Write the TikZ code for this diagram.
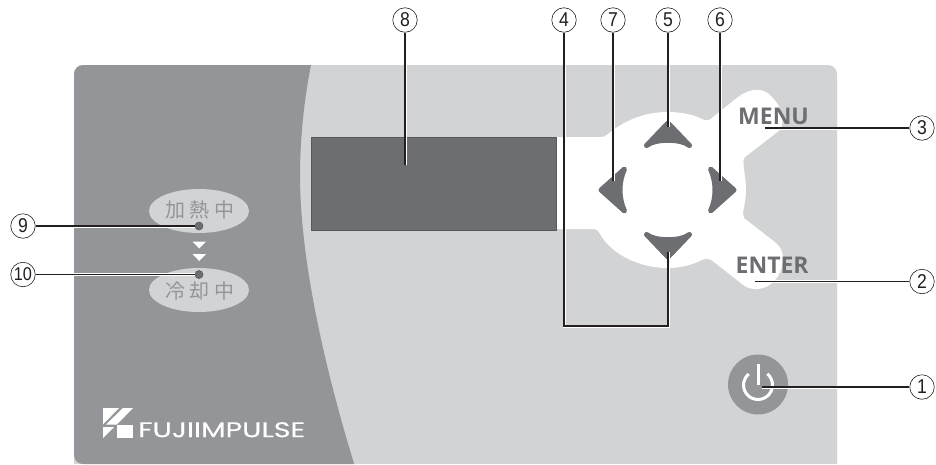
\documentclass[tikz,border=0pt]{standalone}
\usepackage{fontspec}
\setmainfont{Liberation Sans}
\newfontfamily\cjkf{Noto Sans CJK JP}
\newfontfamily\btn{Open Sans}[BoldFont={Open Sans Bold}]
\newfontfamily\logof{Poppins}[FakeBold=0.25]
\newfontfamily\numf{Liberation Sans}[FakeStretch=0.88]
\definecolor{plight}{HTML}{D1D3D4}
\definecolor{pdark}{HTML}{939598}
\definecolor{pdisp}{HTML}{6D6E71}
\definecolor{pedge}{HTML}{58595B}
\definecolor{pink}{HTML}{231F20}
\tikzset{
  num/.style={circle,draw=pink,line width=.6pt,fill=white,minimum size=24.5pt,inner sep=0pt,text=pink,font=\numf\fontsize{20}{20}\selectfont},
  numtight/.style={num,font=\numf\fontsize{18.5}{18.5}\selectfont},
  lead/.style={draw=pink,line width=1.2pt,preaction={draw=white,line width=3pt}},
  arrowkey/.style={fill=pdisp,draw=pdisp,line width=5pt,line join=round},
  lamp/.style={circle,fill=pdisp,draw=pedge,line width=.6pt,minimum size=8pt,inner sep=0pt},
  pill/.style={ellipse,fill=plight,minimum width=100pt,minimum height=44pt,inner sep=0pt},
  pilltext/.style={text=pdark,font=\cjkf\fontsize{20}{20}\selectfont},
  btntext/.style={text=pdisp,font=\btn\bfseries\fontsize{23}{23}\selectfont,inner sep=0pt},
  logomark/.style={fill=white},
}
\usetikzlibrary{shapes.geometric}
\begin{document}
\begin{tikzpicture}[x=1pt,y=-1pt]
\useasboundingbox (0,0) rectangle (936,464);
% panel
\fill[plight,rounded corners=9pt] (74,65) rectangle (837,472);
\fill[white] (60,464) rectangle (850,480);
\begin{scope}
\clip[rounded corners=9pt] (74,65) rectangle (837,464);
\fill[pdark] (60,55) -- (312,55) -- (311,65) .. controls (304,100) and (300,140) .. (300,175)
  .. controls (300,260) and (325,370) .. (356,470) -- (60,470) -- cycle;
\end{scope}
% white key field
\fill[white] (557,137) -- (600,137) .. controls (604,137) and (606,136) .. (608,134)
  .. controls (625,120) and (645,112) .. (668,112)
  .. controls (682,112) and (695,115) .. (704,120)
  .. controls (708,121) and (710,120) .. (713,117)
  -- (738,97) .. controls (750,88) and (763,87) .. (771,96)
  .. controls (781,106) and (786,118) .. (780,130)
  -- (745,157) .. controls (741,161) and (746,175) .. (746,190)
  .. controls (746,205) and (741,213) .. (744,218)
  -- (776,243) .. controls (785,250) and (785,265) .. (778,276)
  .. controls (770,290) and (752,293) .. (742,284)
  -- (714,262) .. controls (709,258) and (706,258) .. (702,260)
  .. controls (692,265) and (680,268) .. (668,268)
  .. controls (640,268) and (612,255) .. (600,234)
  .. controls (598,230) and (596,229) .. (592,229)
  -- (557,229) -- cycle;
% display
\path[fill=pdisp,draw=pedge,line width=.8pt] (311.5,137) rectangle (556.5,230);
% arrow keys
\path[arrowkey] (668,123) -- (689.5,145.5) .. controls (680,138.5) and (656,138.5) .. (646.5,145.5) -- cycle;
\path[arrowkey] (668,257) -- (689.5,234.5) .. controls (680,241.5) and (656,241.5) .. (646.5,234.5) -- cycle;
\path[arrowkey] (601,190) -- (624.5,169) .. controls (618.5,182) and (618.5,198) .. (624.5,211) -- cycle;
\path[arrowkey] (734,190) -- (710.5,169) .. controls (716.5,182) and (716.5,198) .. (710.5,211) -- cycle;
% button labels
\node[btntext,anchor=base west] (menu) at (738,124) {MENU};
\node[btntext,anchor=base west] (enter) at (735.5,273) {ENTER};
% power button
\node[circle,fill=pdark,minimum size=60pt,inner sep=0pt] (power) at (758,384.5) {};
\draw[white,line width=3pt] (758,364) -- (758,385);
\draw[white,line width=3pt] (758,385) ++(-50:14.5) arc[start angle=-50,end angle=230,radius=14.5];
% pills
\node[pill] (heat) at (199,211) {};
\node[pill] (cool) at (199,290) {};
\node[pilltext] at (199.5,210) {加\hspace{4.5pt}熱\hspace{4.5pt}中};
\node[pilltext] at (199.5,291) {冷\hspace{4.5pt}却\hspace{4.5pt}中};
\fill[white] (192.5,241.5) -- (206,241.5) -- (199.2,248.5) -- cycle;
\fill[white] (192.5,254) -- (206,254) -- (199.2,261) -- cycle;
\node[lamp] (d9) at (199,226) {};
\node[lamp] (d10) at (199,274.5) {};
% logo
\fill[logomark] (103,408) -- (119,408) -- (103,424.5) -- cycle;
\fill[logomark] (123,408) -- (133,408) -- (117,424.5) -- (106,424.5) -- cycle;
\fill[logomark] (103,427) -- (114,427) -- (103,438) -- cycle;
\fill[logomark] (117,425) -- (133,425) -- (133,438) -- (117,438) -- cycle;
\node[inner sep=0pt,anchor=south west,text=white] (logo) at (138,437.5) {\resizebox{167pt}{15pt}{\logof FUJIIMPULSE}};
% callouts
\node[num] (n1) at (922,387) {1};
\node[num] (n2) at (922,281.5) {2};
\node[num] (n3) at (922,128) {3};
\node[num] (n4) at (564,20) {4};
\node[num] (n5) at (668,20) {5};
\node[num] (n6) at (720,20) {6};
\node[num] (n7) at (613,20) {7};
\node[num] (n8) at (405,20) {8};
\node[num] (n9) at (23,226) {9};
\node[numtight] (n10) at (23,274.5) {10};
\coordinate (e1) at (762,387);
\coordinate (e2) at (755,281.5);
\coordinate (e3) at (765,128);
\coordinate (e4) at (668,252);
\coordinate (e5) at (668,127);
\coordinate (e6) at (720,181);
\coordinate (e7) at (613,181);
\coordinate (e8) at (405,165);
\coordinate (b4) at (564,326);
\coordinate (b4r) at (668,326);
\draw[lead] (n1) -- (e1);
\draw[lead] (n2) -- (e2);
\draw[lead] (n3) -- (e3);
\draw[lead] (n4) -- (b4) -- (b4r) -- (e4);
\draw[lead] (n5) -- (e5);
\draw[lead] (n6) -- (e6);
\draw[lead] (n7) -- (e7);
\draw[lead] (n8) -- (e8);
\draw[lead] (n9) -- (d9);
\draw[lead] (n10) -- (d10);
\end{tikzpicture}
\end{document}
